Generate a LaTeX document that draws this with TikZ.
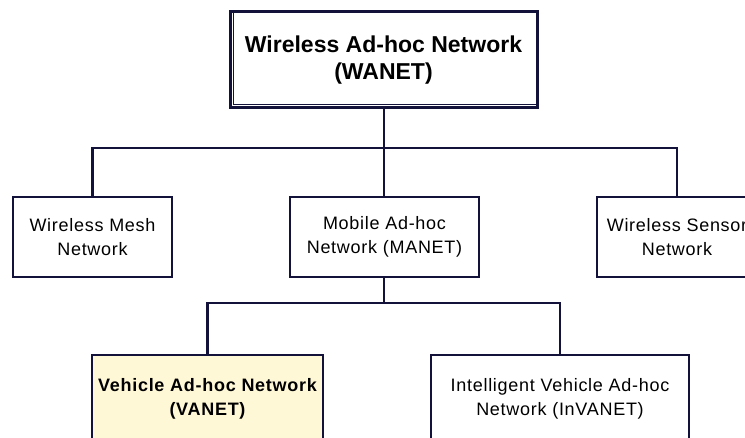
\documentclass[tikz,border=0pt]{standalone}
\usepackage{fontspec}
\setmainfont{Liberation Sans}
\newfontfamily\boxfont[LetterSpace=4]{Liberation Sans}
\usetikzlibrary{backgrounds}
\definecolor{navy}{HTML}{12123A}
\definecolor{cream}{HTML}{FFF8D6}
\definecolor{shadowc}{HTML}{EEEEEE}
\tikzset{
  box/.style={draw=navy, line width=2.4pt, fill=white, inner sep=0pt, align=center,
    font=\boxfont\fontsize{18}{24}\selectfont},
  link/.style={draw=navy, line width=2.6pt},
}
\begin{document}
\begin{tikzpicture}[x=1pt,y=-1pt]
\clip (0,0) rectangle (745,438);
\fill[white] (0,0) rectangle (745,438);
% top node
\node[box, line width=3pt, minimum width=307pt, minimum height=96pt,
  font=\bfseries\fontsize{23}{28}\selectfont] (top) at (383.5,60) {Wireless Ad-hoc Network\\[-1pt](WANET)};
\draw[navy, line width=1pt] ([shift={(5,0)}]top.north west) -- ([shift={(5,-5)}]top.south west) -- ([shift={(0,-5)}]top.south east);
\begin{scope}[on background layer]
\fill[shadowc] ([shift={(17,16)}]top.north west) rectangle ([shift={(8,15)}]top.south east);
\end{scope}
% second level
\node[box, minimum width=159pt, minimum height=80pt] (mesh) at (92.5,237) {Wireless Mesh\\Network};
\node[box, minimum width=189pt, minimum height=80pt] (manet) at (384.5,237) {Mobile Ad-hoc\\Network (MANET)};
\node[box, minimum width=160pt, minimum height=80pt] (sensor) at (677,237) {Wireless Sensor\\Network};
% third level
\node[box, fill=cream, minimum width=231pt, minimum height=87pt,
  font=\boxfont\bfseries\fontsize{18}{24}\selectfont] (vanet) at (207.5,398.5) {Vehicle Ad-hoc Network\\(VANET)};
\node[box, minimum width=258pt, minimum height=87pt] (invanet) at (560,398.5) {Intelligent Vehicle Ad-hoc\\Network (InVANET)};
% connectors
\coordinate (bus1) at (384,148);
\coordinate (bus2) at (384,303);
\draw[link] (top.south -| bus1) -- (bus1);
\draw[link] (mesh.north) |- (bus1) -| (sensor.north);
\draw[link] (bus1) -- (manet.north -| bus1);
\draw[link] (manet.south -| bus2) -- (bus2);
\draw[link] (vanet.north) |- (bus2) -| (invanet.north);
\end{tikzpicture}
\end{document}
